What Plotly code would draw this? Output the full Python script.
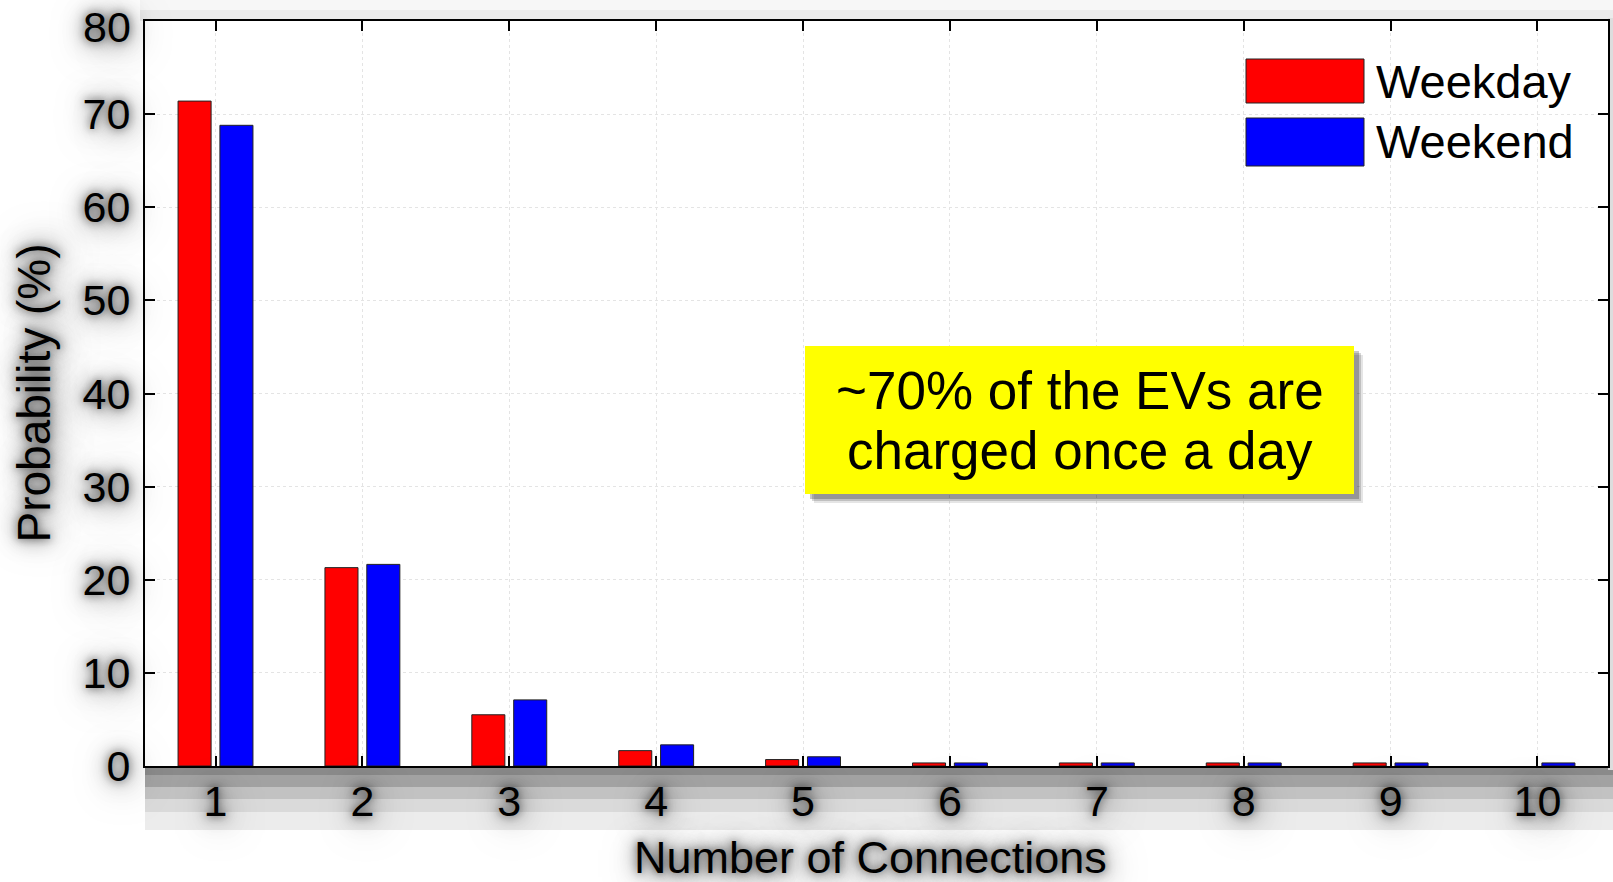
import plotly.graph_objects as go

# Number of daily charging connections per EV and their probabilities (%)
connections = [1, 2, 3, 4, 5, 6, 7, 8, 9, 10]
weekday = [71.4, 21.3, 5.5, 1.65, 0.69, 0.33, 0.33, 0.33, 0.33, None]
weekend = [68.8, 21.65, 7.1, 2.27, 0.99, 0.33, 0.33, 0.33, 0.33, 0.33]
series_names = ["Weekday", "Weekend"]
series_colors = ["#FF0000", "#0000FF"]
y_ticks = [0, 10, 20, 30, 40, 50, 60, 70, 80]
x_title = "Number of Connections"
y_title = "Probability (%)"
note_lines = ["~70% of the EVs are", "charged once a day"]

FONT = "Liberation Sans, Arial, sans-serif"
W, H = 1613, 882
ML, MR, MT, MB = 145, 5, 21, 116
PW, PH = W - ML - MR, H - MT - MB


def px_x(p):
    return (p - ML) / PW


def px_y(p):
    return (H - MB - p) / PH


fig = go.Figure()
bar_w = 0.225
offsets = [-0.255, 0.03]
for name, vals, col, off in zip(series_names, [weekday, weekend], series_colors, offsets):
    fig.add_trace(go.Bar(
        x=connections, y=vals, name=name, width=bar_w, offset=off,
        marker=dict(color=col, line=dict(color="#222222", width=1)),
        showlegend=False,
    ))

shadow_txt = ("0px 0px 8px rgba(0,0,0,0.6), 0px 0px 20px rgba(0,0,0,0.6), "
              "4px 6px 36px rgba(0,0,0,0.5)")
tick_font = dict(family=FONT, size=43, color="black", shadow=shadow_txt)
axis_common = dict(
    showline=True, linecolor="black", linewidth=2, mirror="ticks",
    ticks="inside", ticklen=10, tickcolor="black", tickwidth=2,
    showgrid=True, gridcolor="#e4e4e4", griddash="dot", gridwidth=1,
    zeroline=False, automargin=False, tickfont=tick_font,
)
fig.update_xaxes(range=[0.52, 10.48], tickmode="array", tickvals=connections,
                 ticklabelstandoff=-4, **axis_common)
# the top label sits just under the frame edge, so it is placed separately below
y_labels = [str(v) for v in y_ticks[:-1]] + [""]
fig.update_yaxes(range=[0, 80], tickmode="array", tickvals=y_ticks, ticktext=y_labels,
                 ticklabelstandoff=4, **axis_common)

shapes = []
# soft drop shadow framing the axes box
bands_bottom = [(766, 775, "#8a8a8a"), (775, 787, "#a2a2a2"), (787, 799, "#c2c2c2"),
                (799, 812, "#dadada"), (812, 830, "#ececec")]
for y0, y1, c in bands_bottom:
    shapes.append(dict(type="rect", xref="paper", yref="paper", layer="below",
                       x0=px_x(145), x1=px_x(1613), y0=px_y(y1), y1=px_y(y0),
                       fillcolor=c, line=dict(width=0)))
for y0, y1, c in [(0, 10, "#f7f7f7"), (10, 21, "#ebebeb")]:
    shapes.append(dict(type="rect", xref="paper", yref="paper", layer="below",
                       x0=px_x(140), x1=px_x(1613), y0=px_y(y1), y1=px_y(y0),
                       fillcolor=c, line=dict(width=0)))
shapes.append(dict(type="rect", xref="paper", yref="paper", layer="below",
                   x0=px_x(1608), x1=px_x(1613), y0=px_y(770), y1=px_y(18),
                   fillcolor="#dddddd", line=dict(width=0)))

# legend swatches
legend_rows = [(59, 103), (118, 166)]
for (y0, y1), col in zip(legend_rows, series_colors):
    shapes.append(dict(type="rect", xref="paper", yref="paper",
                       x0=px_x(1246), x1=px_x(1364), y0=px_y(y1), y1=px_y(y0),
                       fillcolor=col, line=dict(color="#222222", width=1)))

# callout box with shadow
bx0, bx1, by0, by1 = 805, 1354, 346, 494
for d, a in [(9, 0.10), (7, 0.16), (5, 0.22)]:
    shapes.append(dict(type="rect", xref="paper", yref="paper",
                       x0=px_x(bx0 + d), x1=px_x(bx1 + d), y0=px_y(by1 + d), y1=px_y(by0 + d),
                       fillcolor=f"rgba(0,0,0,{a})", line=dict(width=0)))
shapes.append(dict(type="rect", xref="paper", yref="paper",
                   x0=px_x(bx0), x1=px_x(bx1), y0=px_y(by1), y1=px_y(by0),
                   fillcolor="#FFFF00", line=dict(width=0)))

annotations = []
annotations.append(dict(xref="paper", yref="y", x=px_x(133), y=y_ticks[-1], yshift=-6,
                        xanchor="right", yanchor="middle", text=str(y_ticks[-1]),
                        showarrow=False, font=tick_font))
for (y0, y1), name in zip(legend_rows, series_names):
    annotations.append(dict(xref="paper", yref="paper", x=px_x(1374), y=px_y((y0 + y1) / 2),
                            xanchor="left", yanchor="middle", text=name, showarrow=False,
                            font=dict(family=FONT, size=47, color="black")))
for line, yc in zip(note_lines, [391, 450]):
    annotations.append(dict(xref="paper", yref="paper", x=px_x((bx0 + bx1) / 2),
                            y=px_y(yc), xanchor="center", yanchor="middle",
                            text=line, showarrow=False,
                            font=dict(family=FONT, size=53, color="black")))
annotations.append(dict(xref="paper", yref="paper", x=px_x(870), y=px_y(857),
                        xanchor="center", yanchor="middle", text=x_title, showarrow=False,
                        font=dict(family=FONT, size=45, color="black", shadow=shadow_txt)))
annotations.append(dict(xref="paper", yref="paper", x=px_x(33), y=0.5,
                        xanchor="center", yanchor="middle", text=y_title, textangle=-90,
                        showarrow=False,
                        font=dict(family=FONT, size=46, color="black", shadow=shadow_txt)))

fig.update_layout(
    width=W, height=H,
    margin=dict(l=ML, r=MR, t=MT, b=MB, pad=0, autoexpand=False),
    paper_bgcolor="white", plot_bgcolor="white",
    barmode="overlay",
    shapes=shapes, annotations=annotations,
    showlegend=False,
)

fig.write_html("out.html")
